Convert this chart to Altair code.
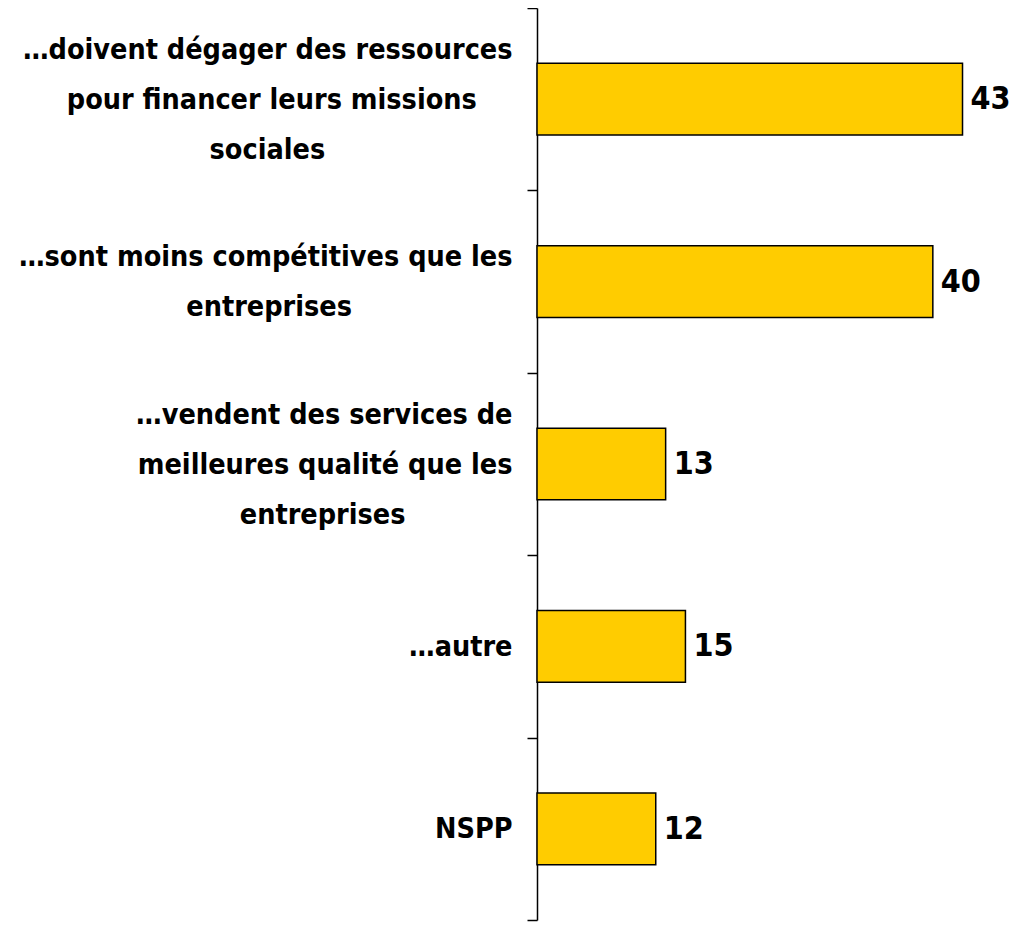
import altair as alt
import pandas as pd

categories = [
    "…doivent dégager des ressources\npour financer leurs missions\nsociales",
    "…sont moins compétitives que les\nentreprises",
    "…vendent des services de\nmeilleures qualité que les\nentreprises",
    "…autre",
    "NSPP",
]
values = [43, 40, 13, 15, 12]

# approximate relative glyph advances (DejaVu Sans Bold, em units) used only to
# centre the lines of each right-aligned label block with trailing no-break spaces
ADV = {
    " ": .348, ".": .381, "…": 1.0, "a": .675, "c": .593, "d": .716, "e": .678,
    "é": .678, "f": .435, "g": .716, "i": .343, "l": .343, "m": 1.042, "n": .712,
    "o": .687, "p": .716, "q": .716, "r": .493, "s": .595, "t": .478, "u": .712,
    "v": .652, "N": .837, "S": .720, "P": .733,
}


def line_w(s):
    return sum(ADV.get(ch, .65) for ch in s)


def centred(label):
    lines = label.split("\n")
    wmax = max(line_w(l) for l in lines)
    out = []
    for l in lines:
        n = int(round((wmax - line_w(l)) / 2 / ADV[" "]))
        out.append(l + ("\u00a0" * n + "\u200b" if n else ""))
    return "\n".join(out)


display = [centred(c) for c in categories]
df = pd.DataFrame({"cat": display, "val": values})

FONT = "DejaVu Sans Condensed, DejaVu Sans, sans-serif"
LH = 50

y_axis = alt.Axis(
    title=None,
    labelExpr="split(datum.label, '\\n')",
    labelFont=FONT,
    labelFontSize=28.5,
    labelFontWeight="bold",
    labelColor="black",
    labelLineHeight=LH,
    labelAlign="right",
    labelBaseline="middle",
    labelPadding=15,
    labelLimit=0,
    labelOffset=alt.ExprRef(expr=f"-(length(split(datum.value, '\\n')) - 1) * {LH / 2}"),
    domainColor="black",
    domainWidth=1.5,
    tickColor="black",
    tickWidth=1.5,
    tickSize=10,
    tickBand="extent",
    grid=False,
)
y = alt.Y("cat:N", sort=display, scale=alt.Scale(paddingInner=0, paddingOuter=0), axis=y_axis)
x = alt.X("val:Q", scale=alt.Scale(domain=[0, 48]), axis=None)

bars = alt.Chart(df).mark_bar(
    color="#FFCC00", stroke="black", strokeWidth=1.5, height=alt.RelativeBandSize(band=0.393)
).encode(x=x, y=y)
text = alt.Chart(df).mark_text(
    align="left", baseline="middle", dx=8, font=FONT, fontSize=32, fontWeight="bold", color="black"
).encode(x=x, y=alt.Y("cat:N", sort=display), text="val:Q")

chart = (
    alt.layer(bars, text)
    .properties(
        width=475,
        height=912,
        autosize=alt.AutoSizeParams(type="none"),
        padding={"left": 529, "top": 0, "right": 0, "bottom": 2},
        view=alt.ViewBackground(stroke="transparent", strokeWidth=0),
    )
    .configure_view(stroke="transparent", strokeWidth=0)
    .configure(background="white")
)

chart.save("out.html", embed_options={"renderer": "svg", "actions": False})
